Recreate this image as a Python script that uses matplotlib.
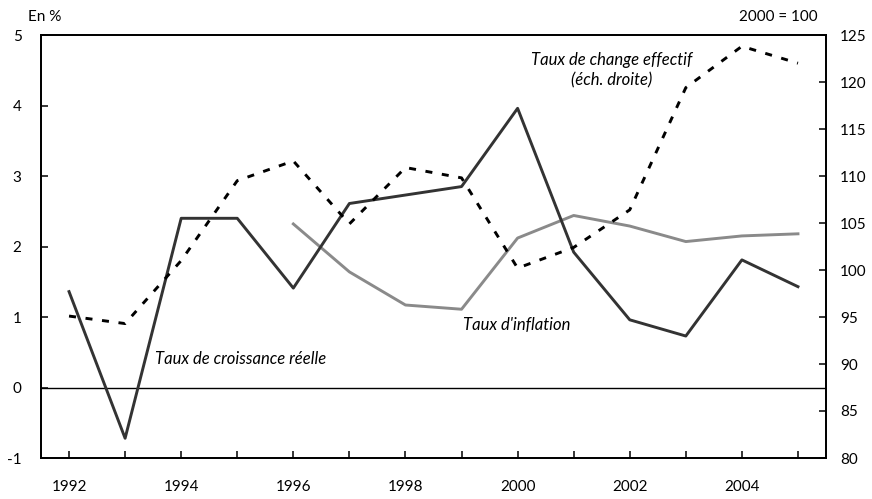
import matplotlib; matplotlib.use("Agg")
import matplotlib.pyplot as plt

plt.rcParams["font.family"] = ["Lato", "DejaVu Sans"]
plt.rcParams["axes.unicode_minus"] = False

years = list(range(1992, 2006))
croissance = [1.36, -0.72, 2.40, 2.40, 1.41, 2.61, 2.73, 2.85, 3.96, 1.92, 0.96, 0.73, 1.81, 1.43]
infl_years = list(range(1996, 2006))
inflation = [2.32, 1.64, 1.17, 1.11, 2.12, 2.44, 2.29, 2.07, 2.15, 2.18]
change = [95.1, 94.3, 101.0, 109.5, 111.6, 104.9, 110.9, 109.8, 100.2, 102.4, 106.4, 119.4, 123.8, 122.0]

fig = plt.figure(figsize=(8.72, 4.99), dpi=100)
ax = fig.add_axes([41/872, 1-458/499, 785/872, 423/499])
ax2 = ax.twinx()

ax.axhline(0, color="black", lw=1.0, zorder=1)
ax.plot(years, croissance, color="#333333", lw=2.1, zorder=4)
ax.plot(infl_years, inflation, color="#8a8a8a", lw=2.1, zorder=3)
ax2.plot(years, change, color="black", lw=2.1, ls=(0, (2.4, 3.3)), zorder=2)

ax.set_xlim(1991.5, 2005.5)
ax.set_ylim(-1, 5)
ax2.set_ylim(80, 125)
ax.set_yticks(range(-1, 6))
ax2.set_yticks(range(80, 130, 5))
ax.set_xticks(years)
ax.set_xticklabels([str(y) if y % 2 == 0 else "" for y in years])

for a in (ax, ax2):
    for s in a.spines.values():
        s.set_linewidth(1.3)
ax.tick_params(axis="both", direction="in", length=5, width=1.1, labelsize=11)
ax.tick_params(axis="x", pad=16)
ax.tick_params(axis="y", pad=14)
ax2.tick_params(axis="y", direction="in", length=5, width=1.1, labelsize=11, pad=10)

fig.text(28/872, 1-17/499, "En %", fontsize=11, va="center", ha="left")
fig.text(818/872, 1-17/499, "2000 = 100", fontsize=11, va="center", ha="right")

fig.text(155/872, 1-359/499, "Taux de croissance réelle", fontsize=12, style="italic",
         ha="left", va="center")
fig.text(463/872, 1-325/499, "Taux d'inflation", fontsize=12, style="italic",
         ha="left", va="center")
fig.text(612/872, 1-70/499, "Taux de change effectif\n(éch. droite)", fontsize=12,
         style="italic", ha="center", va="center", linespacing=1.3)

fig.savefig("out.png", dpi=100)
